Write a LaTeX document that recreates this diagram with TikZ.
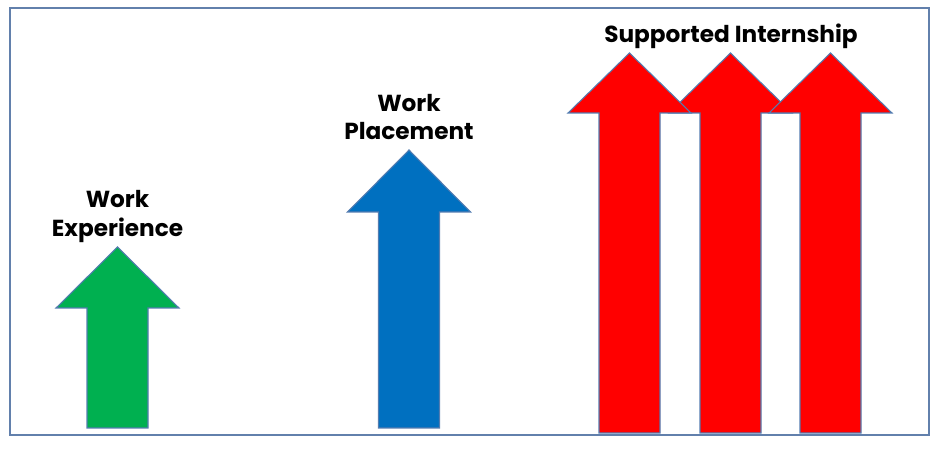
\documentclass[tikz,border=0pt]{standalone}
\usepackage{fontspec}
\setmainfont{Poppins}
\usepackage{tikz}
\usetikzlibrary{positioning}
\definecolor{framecol}{RGB}{98,128,172}
\definecolor{edgecol}{RGB}{84,124,176}
\definecolor{expgreen}{RGB}{0,176,80}
\definecolor{plcblue}{RGB}{0,112,192}
\definecolor{intred}{RGB}{255,0,0}
\tikzset{x=0.75pt,y=0.75pt,
  arrowline/.style={draw=edgecol,line width=0.8pt,line join=miter},
  lbl/.style={font=\fontsize{17.4}{20}\selectfont\bfseries,inner sep=0pt,anchor=base}}
% up arrow: centre x, tip y, head base y, bottom y, fill colour
\newcommand{\uparr}[5]{%
  \filldraw[arrowline,fill=#5] (#1-30.5,#4) -- (#1-30.5,#3) -- (#1-61.5,#3)
    -- (#1,#2) -- (#1+61.5,#3) -- (#1+30.5,#3) -- (#1+30.5,#4) -- cycle;}

\begin{document}
\begin{tikzpicture}
              \useasboundingbox (0,0) rectangle (940,456);
              \draw[framecol,line width=1.6pt] (10,21) rectangle (929,448);

              \coordinate (gtip) at (117.5,209);
              \coordinate (btip) at (409,306);
              \coordinate (rtip) at (731,403);

              \uparr{117.5}{209}{148}{28}{expgreen}
              \uparr{409}{306}{244}{28}{plcblue}

              \uparr{730.5}{403}{343}{23}{intred}
              \uparr{629.5}{403}{343}{23}{intred}
              \uparr{830.5}{403}{343}{23}{intred}

              \node[lbl] (gexp) at ([yshift=8pt]gtip) {Experience};
              \node[lbl] (gwork) at ([yshift=21.75pt]gexp.base) {Work};

              \node[lbl] (bplc) at ([yshift=8pt]btip) {Placement};
              \node[lbl] (bwork) at ([yshift=21pt]bplc.base) {Work};

              \node[lbl] (rint) at ([yshift=8pt]rtip) {Supported Internship};
\end{tikzpicture}
\end{document}
